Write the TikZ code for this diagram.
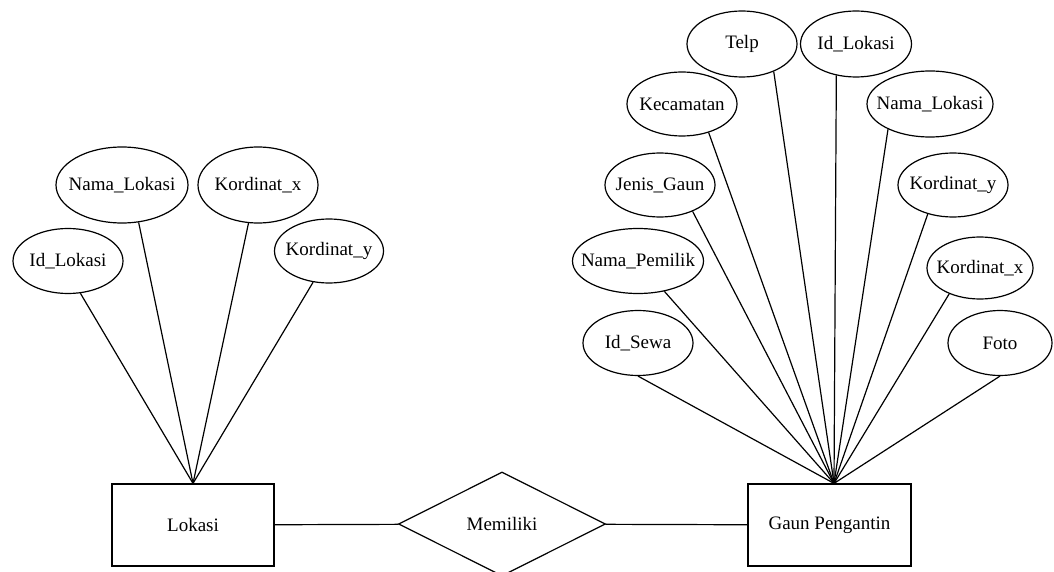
\documentclass[tikz,border=0pt]{standalone}
\usepackage{fontspec}
\setmainfont{Liberation Serif}
\usetikzlibrary{shapes.geometric}

% teks atribut tanpa lebar, supaya ukuran elips ditentukan oleh minimum width
\newcommand{\atr}[1]{\makebox[0pt]{#1}}

\begin{document}
\begin{tikzpicture}[x=0.5pt, y=-0.5pt,
    every node/.style={font=\fontsize{9.5}{11}\selectfont},
    every path/.style={line width=0.6pt},
    entitas/.style={draw, rectangle, minimum width=81pt, minimum height=41pt, inner sep=0pt},
    relasi/.style={draw, diamond, aspect=2, minimum width=103.5pt, minimum height=52pt, inner sep=0pt},
    atribut/.style={draw, ellipse, minimum width=55pt, minimum height=32.5pt, inner sep=0pt}]
  \useasboundingbox (0,0) rectangle (1054,572);

  % entitas dan relasi
  \node[entitas] (lokasi) at (193,525) {Lokasi};
  \node[relasi] (memiliki) at (502,524) {Memiliki};
  \node[entitas, minimum width=81.5pt] (gaun) at (829.5,525) {Gaun Pengantin};
  \coordinate (gtop) at ([xshift=2.25pt]gaun.north);

  \draw (lokasi) -- (memiliki);
  \draw (memiliki) -- (gaun);

  % atribut Lokasi
  \node[atribut] (lid) at (68,261) {\atr{Id\_Lokasi}};
  \node[atribut, minimum width=66pt, minimum height=38pt] (lnama) at (122,185) {\atr{Nama\_Lokasi}};
  \node[atribut, minimum width=60pt, minimum height=38pt] (lkx) at (258,185) {\atr{Kordinat\_x}};
  \node[atribut, minimum width=54.5pt, minimum height=32pt] (lky) at (329,251) {\atr{Kordinat\_y}};

  \foreach \n/\a in {lid/291, lnama/294, lkx/256, lky/243}
    \draw (\n.\a) -- (lokasi.north);

  % atribut Gaun Pengantin
  \node[atribut, minimum height=33pt] (gtelp) at (742,44) {\atr{Telp}};
  \node[atribut, minimum width=55.5pt, minimum height=33pt] (gidlok) at (856,44) {\atr{Id\_Lokasi}};
  \node[atribut, minimum height=32pt] (gkec) at (682,104) {\atr{Kecamatan}};
  \node[atribut, minimum width=63pt, minimum height=33pt] (gnama) at (930,104) {\atr{Nama\_Lokasi}};
  \node[atribut, minimum height=32pt] (gjenis) at (660,185) {\atr{Jenis\_Gaun}};
  \node[atribut, minimum height=32pt] (gky) at (953,185) {\atr{Kordinat\_y}};
  \node[atribut, minimum width=65.5pt] (gpemilik) at (638,261) {\atr{Nama\_Pemilik}};
  \node[atribut, minimum width=53pt, minimum height=31pt] (gkx) at (980,268) {\atr{Kordinat\_x}};
  \node[atribut] (gsewa) at (638,343) {\atr{Id\_Sewa}};
  \node[atribut, minimum width=52pt] (gfoto) at (1000,343) {\atr{Foto}};

  \foreach \n/\a in {gtelp/319, gidlok/238, gkec/313, gnama/211, gjenis/321,
                     gky/229, gpemilik/311, gkx/220, gsewa/270, gfoto/270}
    \draw (\n.\a) -- (gtop);
\end{tikzpicture}
\end{document}
